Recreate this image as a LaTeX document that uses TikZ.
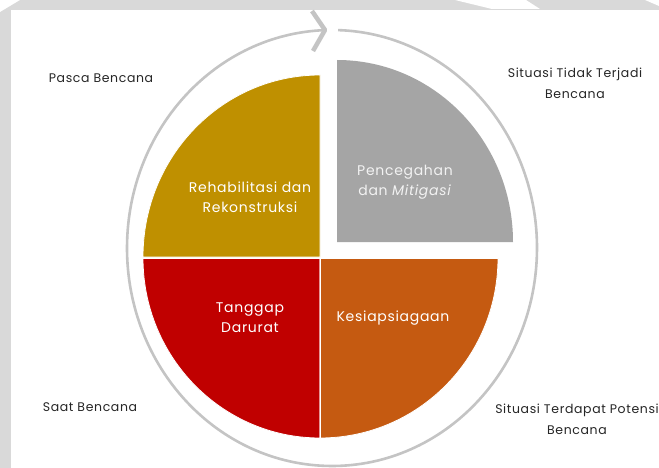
\documentclass[tikz,border=0pt]{standalone}
\usepackage{fontspec}
\setmainfont{Poppins}
\usepackage{tikz}
\definecolor{frame}{HTML}{D9D9D9}
\definecolor{ring}{HTML}{C4C4C4}
\definecolor{gold}{HTML}{BF9000}
\definecolor{stone}{HTML}{A5A5A5}
\definecolor{crimson}{HTML}{C00000}
\definecolor{rust}{HTML}{C55A11}
\tikzstyle{quadrant}=[draw=white, line width=0.8pt]
\tikzstyle{phase}=[align=center, text=white, font=\fontsize{14}{20}\selectfont\addfontfeatures{LetterSpace=5}, inner sep=0pt]
\tikzstyle{situation}=[align=center, text=black!85, font=\fontsize{12.5}{21}\selectfont\addfontfeatures{LetterSpace=5}, inner sep=0pt]

\begin{document}
\begin{tikzpicture}[x=1pt, y=-1pt]
    \useasboundingbox (0,0) rectangle (659,468);
    % frame of the screenshot
    \fill[frame] (0,0) rectangle (659,468);
    \fill[white] (11,10) rectangle (659,468);
    \fill[white] (0,0) -- (20,0) -- (0,12) -- cycle;
    \fill[white] (455,0) -- (526,0) -- (540,9) -- (492,9) -- cycle;
    \fill[white] (645,0) -- (659,0) -- (659,6) -- cycle;
    % cycle ring with its arrow
    \draw[ring, line width=2.6pt] (332,248) ++(271.7:205 and 218)
        arc[start angle=271.7, end angle=628, x radius=205, y radius=218];
    \coordinate (tip) at (325,30);
    \draw[ring, line width=4.5pt, line join=round] (312,11) -- (tip) -- (313,51);
    % the four phases
    \fill[gold, quadrant] (320,257) -- (143,257)
        arc[start angle=180, end angle=270, x radius=177, y radius=182] -- cycle;
    \fill[stone] (337,242) -- (337,60)
        arc[start angle=270, end angle=360, x radius=176, y radius=182] -- cycle;
    \fill[crimson, quadrant] (320,258) -- (143,258)
        arc[start angle=180, end angle=90, x radius=177, y radius=180] -- cycle;
    \fill[rust, quadrant] (320,258) -- (498,258)
        arc[start angle=0, end angle=90, x radius=178, y radius=180] -- cycle;
    \draw[quadrant] (143,258) -- (498,258) (320,258) -- (320,438);
    \node[phase] (q1) at (250,197) {Rehabilitasi dan\\Rekonstruksi};
    \node[phase, text=white!95!black] (q2) at (405,182) {Pencegahan\\dan \textit{Mitigasi}};
    \node[phase] (q3) at (250,318) {Tanggap\\Darurat};
    \node[phase] (q4) at (393,318) {Kesiapsiagaan};
    % situations
    \node[situation] (s1) at (101,78) {Pasca Bencana};
    \node[situation] (s2) at (575,83) {Situasi Tidak Terjadi\\Bencana};
    \node[situation] (s3) at (90,407) {Saat Bencana};
    \node[situation] (s4) at (577,419) {Situasi Terdapat Potensi\\Bencana};
\end{tikzpicture}
\end{document}
